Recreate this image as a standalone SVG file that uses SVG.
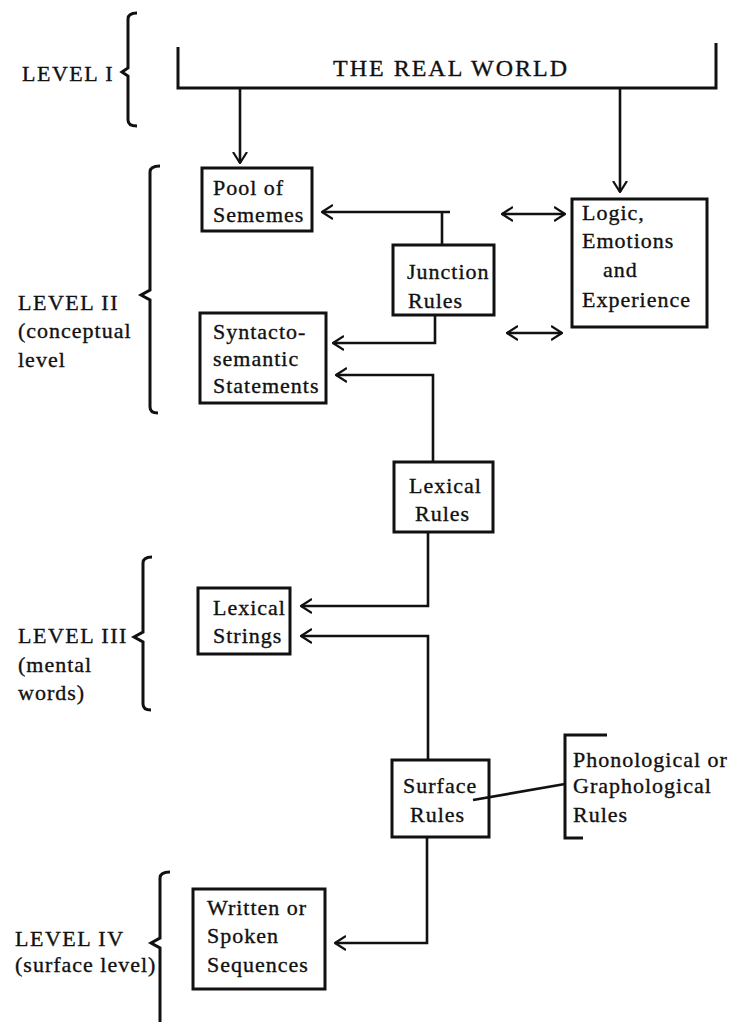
<svg xmlns="http://www.w3.org/2000/svg" width="739" height="1026" viewBox="0 0 739 1026">
<style>
text{font-family:"Liberation Serif","Times New Roman",serif;font-size:22px;letter-spacing:1px;fill:#111;stroke:#111;stroke-width:0.35}
.lvl{font-size:22px;letter-spacing:1.5px}
.title{font-size:24px;letter-spacing:2px}
.box{fill:none;stroke:#111;stroke-width:3}
.ln{fill:none;stroke:#111;stroke-width:2.6}
.br{fill:none;stroke:#111;stroke-width:3;stroke-linejoin:miter}
</style>
<defs>
<marker id="ah" viewBox="0 0 12 16" refX="11" refY="8" markerWidth="12" markerHeight="16" markerUnits="userSpaceOnUse" orient="auto-start-reverse">
<path d="M0,1 L11,8 L0,15" fill="none" stroke="#111" stroke-width="2.2"/>
</marker>
</defs>
<rect width="739" height="1026" fill="#fff"/>

<g id="level1">
<path class="br" d="M137,13 Q128,13 128,19 V68 L122,72 L128,76 V120 Q128,126 137,126"/>
<text class="lvl" x="22" y="81">LEVEL I</text>
</g>
<g id="real-world">
<path class="box" d="M178,47 V88 H716 V43"/>
<text class="title" x="333" y="76">THE REAL WORLD</text>
</g>

<g id="level2">
<path class="br" d="M160,166 Q150,166 150,172 V290 L141,295 L150,300 V407 Q150,413 158,413"/>
<text class="lvl" x="18" y="310">LEVEL II</text>
<text x="18" y="338">(conceptual</text>
<text x="18" y="367">level</text>
</g>
<g id="pool">
<rect class="box" x="202" y="168" width="110" height="63"/>
<text x="213" y="195">Pool  of</text>
<text x="213" y="222">Sememes</text>
</g>
<g id="junction">
<rect class="box" x="393" y="245" width="101" height="70"/>
<text x="407" y="279">Junction</text>
<text x="408" y="308">Rules</text>
</g>
<g id="logic">
<rect class="box" x="572" y="199" width="135" height="128"/>
<text x="582" y="220">Logic,</text>
<text x="582" y="248">Emotions</text>
<text x="603" y="277">and</text>
<text x="582" y="307">Experience</text>
</g>
<g id="syntacto">
<rect class="box" x="200" y="313" width="126" height="90"/>
<text x="213" y="339">Syntacto-</text>
<text x="213" y="366">semantic</text>
<text x="213" y="393">Statements</text>
</g>
<g id="lexical-rules">
<rect class="box" x="394" y="462" width="99" height="70"/>
<text x="409" y="493">Lexical</text>
<text x="415" y="521">Rules</text>
</g>

<g id="level3">
<path class="br" d="M152,557 Q143,557 143,563 V632 L134,637 L143,642 V704 Q143,710 151,710"/>
<text class="lvl" x="18" y="643">LEVEL III</text>
<text x="18" y="672">(mental</text>
<text x="18" y="700">words)</text>
</g>
<g id="lexical-strings">
<rect class="box" x="198" y="588" width="92" height="66"/>
<text x="213" y="615">Lexical</text>
<text x="213" y="643">Strings</text>
</g>
<g id="surface">
<rect class="box" x="392" y="760" width="97" height="77"/>
<text x="403" y="793">Surface</text>
<text x="410" y="822">Rules</text>
</g>
<g id="phonological">
<path class="br" d="M607,735 H565 V838 H583"/>
<text x="573" y="767">Phonological or</text>
<text x="573" y="793">Graphological</text>
<text x="573" y="822">Rules</text>
</g>

<g id="level4">
<path class="br" d="M170,872 Q160,872 160,878 V938 L151,943 L160,948 V1022"/>
<text class="lvl" x="15" y="946">LEVEL IV</text>
<text x="15" y="972">(surface level)</text>
</g>
<g id="written">
<rect class="box" x="193" y="889" width="132" height="100"/>
<text x="207" y="915">Written or</text>
<text x="207" y="943">Spoken</text>
<text x="207" y="972">Sequences</text>
</g>

<g id="connectors">
<path class="ln" d="M240,88 V163" marker-end="url(#ah)"/>
<path class="ln" d="M620,88 V192" marker-end="url(#ah)"/>
<path class="ln" d="M450,212 H322" marker-end="url(#ah)"/>
<path class="ln" d="M442,212 V245"/>
<path class="ln" d="M435,315 V343 H333" marker-end="url(#ah)"/>
<path class="ln" d="M502,214 H565" marker-start="url(#ah)" marker-end="url(#ah)"/>
<path class="ln" d="M507,333 H562" marker-start="url(#ah)" marker-end="url(#ah)"/>
<path class="ln" d="M433,462 V375 H336" marker-end="url(#ah)"/>
<path class="ln" d="M428,532 V606 H301" marker-end="url(#ah)"/>
<path class="ln" d="M428,760 V636 H301" marker-end="url(#ah)"/>
<path class="ln" d="M427,837 V943 H335" marker-end="url(#ah)"/>
<path class="ln" d="M473,800 L565,784"/>
</g>
</svg>
